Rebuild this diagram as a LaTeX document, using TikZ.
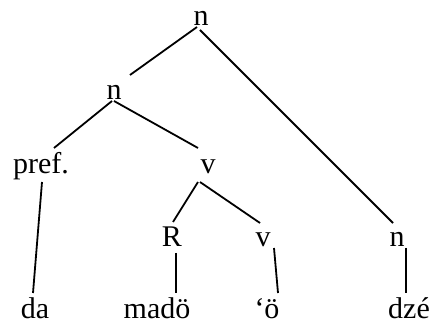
\documentclass[tikz,border=0pt]{standalone}
\usepackage{fontspec}
\setmainfont{Liberation Serif}
\begin{document}
\begin{tikzpicture}[x=1pt,y=-1pt,
  lab/.style={anchor=base,inner sep=0pt,font=\fontsize{30}{36}\selectfont},
  edge/.style={line width=1.8pt}]
\useasboundingbox (0,0) rectangle (434,323);
\node[lab] (root) at (201,26) {n};
\node[lab] (mid) at (114,100) {n};
\node[lab] (pref) at (41,174) {pref.};
\node[lab] (v) at (208,174) {v};
\node[lab] (R) at (172,247) {R};
\node[lab] (v2) at (263,247) {v};
\node[lab] (n2) at (397,247) {n};
\node[lab] (da) at (35,318) {da};
\node[lab] (mado) at (157,318) {madö};
\node[lab] (o) at (267,318) {‘ö};
\node[lab] (dze) at (409,318) {dzé};
\draw[edge] ([shift={(-4,1)}]root.base) -- ([shift={(16,-25)}]mid.base);
\draw[edge] ([shift={(-1,4)}]root.base) -- ([shift={(-4,-24)}]n2.base);
\draw[edge] ([shift={(-2,1)}]mid.base) -- ([shift={(13,-26)}]pref.base);
\draw[edge] ([shift={(0,1)}]mid.base) -- ([shift={(-10,-26)}]v.base);
\draw[edge] ([shift={(1,8)}]pref.base) -- ([shift={(-2,-25)}]da.base);
\draw[edge] ([shift={(-10,8)}]v.base) -- ([shift={(1,-25)}]R.base);
\draw[edge] ([shift={(-8,8)}]v.base) -- ([shift={(-3,-24)}]v2.base);
\draw[edge] ([shift={(4,6)}]R.base) -- ([shift={(19,-25)}]mado.base);
\draw[edge] ([shift={(11,1)}]v2.base) -- ([shift={(11,-25)}]o.base);
\draw[edge] ([shift={(9,1)}]n2.base) -- ([shift={(-3,-25)}]dze.base);
\end{tikzpicture}
\end{document}
